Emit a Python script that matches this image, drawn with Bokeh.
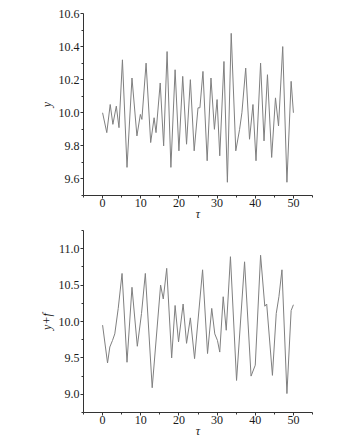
from bokeh.plotting import figure
from bokeh.layouts import column
from bokeh.models import FixedTicker, CustomJSTickFormatter
from bokeh.embed import file_html
from bokeh.resources import INLINE

# top panel: y(tau)
tau_y = [0.0, 1.1, 2.0, 2.7, 3.6, 4.3, 5.2, 6.4, 7.7, 9.0, 9.9, 10.3, 11.4, 12.6, 13.5, 14.0,
         15.1, 16.0, 16.9, 17.9, 19.0, 20.0, 21.0, 22.0, 23.0, 24.0, 25.0, 25.5, 26.3, 27.4,
         28.4, 29.3, 30.0, 30.7, 31.8, 32.7, 33.7, 34.9, 35.9, 36.5, 37.5, 38.5, 39.4, 40.2,
         41.4, 42.3, 43.2, 44.3, 45.3, 46.1, 47.2, 48.3, 49.4, 50.0]
y_vals = [10.00, 9.88, 10.05, 9.93, 10.04, 9.91, 10.32, 9.67, 10.21, 9.86, 9.99, 9.96, 10.30, 9.82, 9.97, 9.88,
          10.18, 9.80, 10.37, 9.67, 10.26, 9.77, 10.22, 9.81, 10.20, 9.77, 10.03, 10.03, 10.25, 9.71,
          10.21, 9.90, 10.08, 9.74, 10.31, 9.58, 10.48, 9.77, 9.90, 10.00, 10.27, 9.84, 10.05, 9.71,
          10.30, 9.83, 10.23, 9.73, 10.09, 9.92, 10.40, 9.58, 10.19, 10.00]

# bottom panel: y+f(tau)
tau_yf = [0.0, 1.3, 1.9, 2.6, 3.2, 4.1, 5.1, 6.4, 7.7, 9.1, 10.2, 11.2, 13.0, 15.2, 15.9, 16.8,
          18.1, 19.0, 19.9, 21.1, 22.0, 23.0, 24.1, 26.2, 27.5, 28.6, 29.4, 30.1, 30.7, 31.6,
          32.4, 33.5, 35.1, 37.2, 38.9, 40.0, 41.4, 42.5, 43.0, 44.5, 45.5, 46.2, 47.0, 48.3,
          49.4, 50.0]
yf_vals = [9.95, 9.43, 9.65, 9.74, 9.83, 10.18, 10.66, 9.44, 10.47, 9.66, 10.11, 10.66, 9.09, 10.50, 10.31, 10.73,
           9.50, 10.22, 9.72, 10.24, 9.70, 10.05, 9.49, 10.71, 9.56, 10.18, 9.83, 9.74, 9.58, 10.34,
           9.88, 10.89, 9.19, 10.82, 9.25, 9.40, 10.91, 10.21, 10.24, 9.26, 10.11, 10.34, 10.71, 9.01,
           10.15, 10.23]

x_major = [0, 10, 20, 30, 40, 50]
x_minor = [-5, 5, 15, 25, 35, 45, 55]
y1_major = [9.6, 9.8, 10.0, 10.2, 10.4, 10.6]
y1_minor = [9.5, 9.7, 9.9, 10.1, 10.3, 10.5]
y2_major = [9.0, 9.5, 10.0, 10.5, 11.0]
y2_minor = [8.75, 9.25, 9.75, 10.25, 10.75, 11.25]

FONT = "Liberation Serif"
LINE = "#808080"
AX = "#333333"
TXT = "#1a1a1a"


def style(p, ylab):
    p.outline_line_color = None
    p.grid.visible = False
    p.background_fill_color = "white"
    p.border_fill_color = "white"
    for ax in (p.xaxis[0], p.yaxis[0]):
        ax.axis_line_color = AX
        ax.major_tick_line_color = AX
        ax.minor_tick_line_color = AX
        ax.major_tick_out = 3
        ax.major_tick_in = 0
        ax.minor_tick_out = 2
        ax.minor_tick_in = 0
        ax.major_label_text_font = FONT
        ax.major_label_text_font_size = "12px"
        ax.major_label_text_color = TXT
        ax.axis_label_text_font = FONT
        ax.axis_label_text_font_size = "12px"
        ax.axis_label_text_font_style = "italic"
        ax.axis_label_text_color = TXT
    p.xaxis.major_label_standoff = 0
    p.yaxis.major_label_standoff = 1
    p.xaxis.axis_label = "τ"
    p.xaxis.axis_label_standoff = -3
    p.yaxis.axis_label = ylab
    p.yaxis.axis_label_standoff = 2
    p.yaxis.formatter = CustomJSTickFormatter(code="return tick.toFixed(1);")


p1 = figure(width=343, height=223, x_range=(-5, 55), y_range=(9.5, 10.6),
            output_backend="svg", toolbar_location=None,
            min_border_left=83, min_border_right=31, min_border_top=13, min_border_bottom=27)
p1.line(tau_y, y_vals, line_color=LINE, line_width=1)
p1.xaxis.ticker = FixedTicker(ticks=x_major, minor_ticks=x_minor)
p1.yaxis.ticker = FixedTicker(ticks=y1_major, minor_ticks=y1_minor)
style(p1, "y")

p2 = figure(width=343, height=217, x_range=(-5, 55), y_range=(8.75, 11.25),
            output_backend="svg", toolbar_location=None,
            min_border_left=83, min_border_right=31, min_border_top=7, min_border_bottom=27)
p2.line(tau_yf, yf_vals, line_color=LINE, line_width=1)
p2.xaxis.ticker = FixedTicker(ticks=x_major, minor_ticks=x_minor)
p2.yaxis.ticker = FixedTicker(ticks=y2_major, minor_ticks=y2_minor)
style(p2, "y+f")

layout = column(p1, p2, spacing=0)
open("out.html", "w").write(file_html(layout, INLINE))
